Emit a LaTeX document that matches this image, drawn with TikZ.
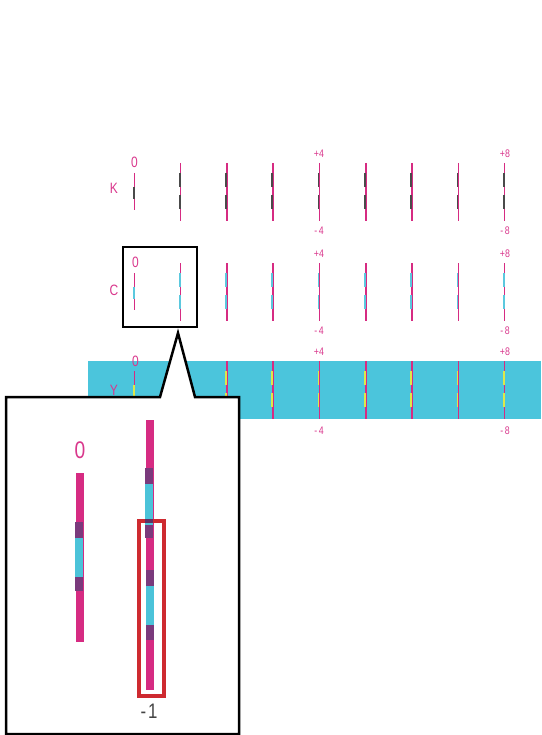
\documentclass[tikz,border=0pt]{standalone}
\usepackage{fontspec}
\newfontfamily\lbl[FakeStretch=0.8]{Liberation Sans}
\definecolor{mag}{HTML}{D62B82}
\definecolor{txtmag}{HTML}{D9378C}
\definecolor{cyb}{HTML}{4BC3D9}
\definecolor{band}{HTML}{4BC5DC}
\definecolor{purp}{HTML}{7A3A7C}
\definecolor{segk}{HTML}{4A4A4A}
\definecolor{segc}{HTML}{5BC8DE}
\definecolor{segy}{HTML}{DDE84A}
\definecolor{redbox}{HTML}{CE2A30}
\definecolor{lblgray}{HTML}{444444}
\begin{document}
\begin{tikzpicture}[x=1pt,y=-1pt,
  thinline/.style={draw=mag,line width=1.5pt},
  segK/.style={draw=segk,line width=1.7pt},
  segC/.style={draw=segc,line width=1.7pt},
  segY/.style={draw=segy,line width=1.7pt},
  rowlbl/.style={text=txtmag,font=\lbl\fontsize{15}{15}\selectfont,inner sep=0pt},
  numlbl/.style={text=txtmag,font=\lbl\fontsize{11}{11}\selectfont,inner sep=0pt},
  frame/.style={draw=black,line width=2.5pt}]
\useasboundingbox (0,0) rectangle (541,735);
\fill[band] (88,361) rectangle (541,419);
% rows of marks
\foreach \dy/\sc in {0/segK,100/segC,198/segY}{
  \draw[thinline] (134.5,{173+\dy}) -- (134.5,{210+\dy});
  \draw[\sc] (133.7,{187+\dy}) -- (133.7,{199+\dy});
  \foreach \i in {1,...,8}{
    \pgfmathsetmacro\xx{134.3+46.3*\i}
    \draw[thinline] (\xx,{163+\dy}) -- (\xx,{221+\dy});
    \draw[\sc] ({\xx-0.9},{173+\dy}) -- ({\xx-0.9},{187+\dy});
    \draw[\sc] ({\xx-0.9},{195+\dy}) -- ({\xx-0.9},{209+\dy});
  }
}
% labels K row
\node[rowlbl] (k0) at (134.5,162.5) {0};
\node[rowlbl] (kK) at (114,188.5) {K};
\node[numlbl] (kp4) at (319,153.5) {+4};
\node[numlbl] (km4) at (319,231) {-\kern1.5pt4};
\node[numlbl] (kp8) at (505,153.5) {+8};
\node[numlbl] (km8) at (505,231) {-\kern1.5pt8};
% labels C row
\node[rowlbl] (c0) at (135.5,262) {0};
\node[rowlbl] (cC) at (114,290) {C};
\node[numlbl] (cp4) at (319,253.5) {+4};
\node[numlbl] (cm4) at (319,331) {-\kern1.5pt4};
\node[numlbl] (cp8) at (505,253.5) {+8};
\node[numlbl] (cm8) at (505,331) {-\kern1.5pt8};
% labels Y row
\node[rowlbl] (y0) at (135.5,361) {0};
\node[rowlbl] (yY) at (114,390) {Y};
\node[numlbl] (yp4) at (319,352) {+4};
\node[numlbl] (ym4) at (319,431) {-\kern1.5pt4};
\node[numlbl] (yp8) at (505,352) {+8};
\node[numlbl] (ym8) at (505,431) {-\kern1.5pt8};
% small selection box
\draw[frame] (123,247) rectangle (197,327);
% callout
\draw[frame,fill=white,line join=miter] (6,397) -- (160,397) -- (178,333) -- (195,397) -- (239,397) -- (239,734) -- (6,734) -- cycle;
% bar 1
\fill[mag] (76,473) rectangle (84,642);
\fill[purp] (75,522) rectangle (83,538);
\fill[cyb] (75,538) rectangle (83,577);
\fill[purp] (75,577) rectangle (83,591);
\node[text=txtmag,font=\lbl\fontsize{24}{24}\selectfont,inner sep=0pt] (b0) at (80,450) {0};
% bar 2
\fill[mag] (146,420) rectangle (154,690);
\fill[purp] (145,468) rectangle (153,484);
\fill[cyb] (145,484) rectangle (153,525);
\fill[purp] (145,525) rectangle (153,538);
\fill[purp] (146,570) rectangle (154,586);
\fill[cyb] (146,586) rectangle (154,625);
\fill[purp] (146,625) rectangle (154,640);
% red box
\draw[draw=redbox,line width=4pt] (139,521) rectangle (164,696);
\fill[fill=purp!80!black] (145,519) rectangle (153,523);
\node[text=lblgray,font=\lbl\fontsize{21}{21}\selectfont,inner sep=0pt] (m1) at (149,711) {-\kern2pt1};
\end{tikzpicture}
\end{document}
